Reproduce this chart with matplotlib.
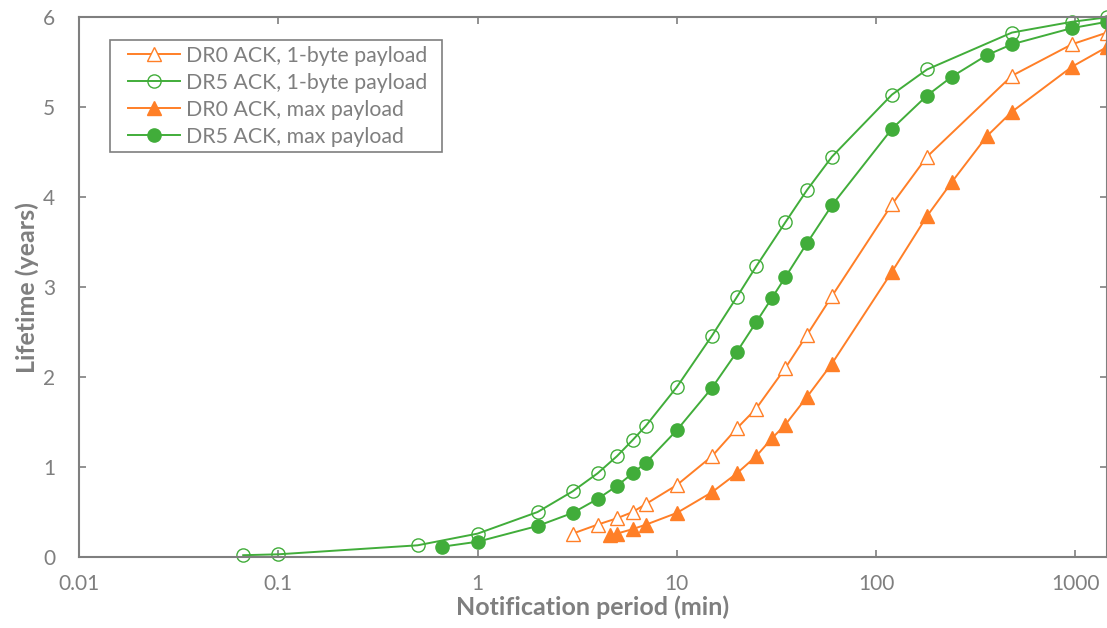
import matplotlib.pyplot as plt
from matplotlib.patches import Rectangle
from matplotlib.ticker import FixedLocator, FixedFormatter, NullLocator

plt.rcParams['font.family'] = ['Lato', 'DejaVu Sans']

# notification period (min) and lifetime (years) for each configuration
dr0_small_x = [3, 4, 5, 6, 7, 10, 15, 20, 25, 35, 45, 60, 120, 180, 480, 960, 1440]
dr0_small_y = [0.26, 0.36, 0.43, 0.50, 0.59, 0.80, 1.12, 1.43, 1.65, 2.10, 2.47, 2.90,
               3.92, 4.45, 5.35, 5.70, 5.83]

dr5_small_x = [1 / 15, 0.1, 0.5, 1, 2, 3, 4, 5, 6, 7, 10, 15, 20, 25, 35, 45, 60, 120,
               180, 480, 960, 1440]
dr5_small_y = [0.02, 0.03, 0.13, 0.26, 0.50, 0.73, 0.93, 1.12, 1.30, 1.46, 1.89, 2.46,
               2.89, 3.23, 3.72, 4.08, 4.45, 5.14, 5.42, 5.83, 5.95, 6.00]

dr0_max_x = [4.6, 5, 6, 7, 10, 15, 20, 25, 30, 35, 45, 60, 120, 180, 240, 360, 480,
             960, 1440]
dr0_max_y = [0.24, 0.26, 0.31, 0.36, 0.49, 0.72, 0.93, 1.12, 1.32, 1.47, 1.78, 2.15,
             3.17, 3.79, 4.17, 4.68, 4.95, 5.45, 5.67]

dr5_max_x = [2 / 3, 1, 2, 3, 4, 5, 6, 7, 10, 15, 20, 25, 30, 35, 45, 60, 120, 180, 240,
             360, 480, 960, 1440]
dr5_max_y = [0.115, 0.17, 0.345, 0.49, 0.645, 0.79, 0.93, 1.05, 1.41, 1.88, 2.28, 2.61,
             2.88, 3.11, 3.49, 3.91, 4.76, 5.13, 5.34, 5.58, 5.70, 5.88, 5.95]

x_ticks = [0.01, 0.1, 1, 10, 100, 1000]
x_tick_labels = ['0.01', '0.1', '1', '10', '100', '1000']
y_ticks = [0, 1, 2, 3, 4, 5, 6]

orange = '#FF7F27'
green = '#41AD3A'
grey = '#7F7F7F'

fig = plt.figure(figsize=(11.07, 6.28), dpi=100)
ax = fig.add_axes([79 / 1107, 1 - 557 / 628, 1 - 79 / 1107, (557 - 17.3) / 628])

common = dict(linewidth=1.4, markersize=9.5, markeredgewidth=1.0, clip_on=False)
ax.plot(dr0_small_x, dr0_small_y, marker='^', color=orange, markerfacecolor='white',
        markeredgecolor=orange, label='DR0 ACK, 1-byte payload', **common)
ax.plot(dr5_small_x, dr5_small_y, marker='o', color=green, markerfacecolor='none',
        markeredgecolor=green, label='DR5 ACK, 1-byte payload', **common)
ax.plot(dr0_max_x, dr0_max_y, marker='^', color=orange, markerfacecolor=orange,
        markeredgecolor=orange, label='DR0 ACK, max payload', **common)
ax.plot(dr5_max_x, dr5_max_y, marker='o', color=green, markerfacecolor=green,
        markeredgecolor=green, label='DR5 ACK, max payload', **common)

ax.set_xscale('log')
ax.set_xlim(0.01, 1440)
ax.set_ylim(0, 6)
ax.xaxis.set_major_locator(FixedLocator(x_ticks))
ax.xaxis.set_major_formatter(FixedFormatter(x_tick_labels))
ax.xaxis.set_minor_locator(NullLocator())
ax.set_yticks(y_ticks)

for side in ['left', 'bottom', 'top', 'right']:
    ax.spines[side].set_color(grey)
    ax.spines[side].set_linewidth(1.5)

ax.tick_params(axis='both', which='major', direction='in', length=5, width=1.2,
               color=grey, labelcolor=grey, labelsize=15, top=True, right=True)
ax.tick_params(axis='x', pad=12)
ax.tick_params(axis='y', pad=17)

ax.set_xlabel('Notification period (min)', fontsize=18, fontweight='bold',
              color=grey, labelpad=1)
ax.set_ylabel('Lifetime (years)', fontsize=18, fontweight='bold',
              color=grey, labelpad=3)

# legend without its own frame; the box is drawn separately so the padding
# around the entries can differ horizontally and vertically
leg = ax.legend(loc='upper left', bbox_to_anchor=(0.0477, 0.9475), borderaxespad=0,
                borderpad=0, fontsize=15.3, frameon=False, handlelength=2.45,
                handletextpad=0.3, labelspacing=0.33)
for t in leg.get_texts():
    t.set_color(grey)
ax.add_patch(Rectangle((0.0302, 0.7508), 0.3229, 0.2077, transform=ax.transAxes,
                       fill=False, edgecolor=grey, linewidth=1.2, zorder=5))

fig.savefig('out.png', dpi=100)
